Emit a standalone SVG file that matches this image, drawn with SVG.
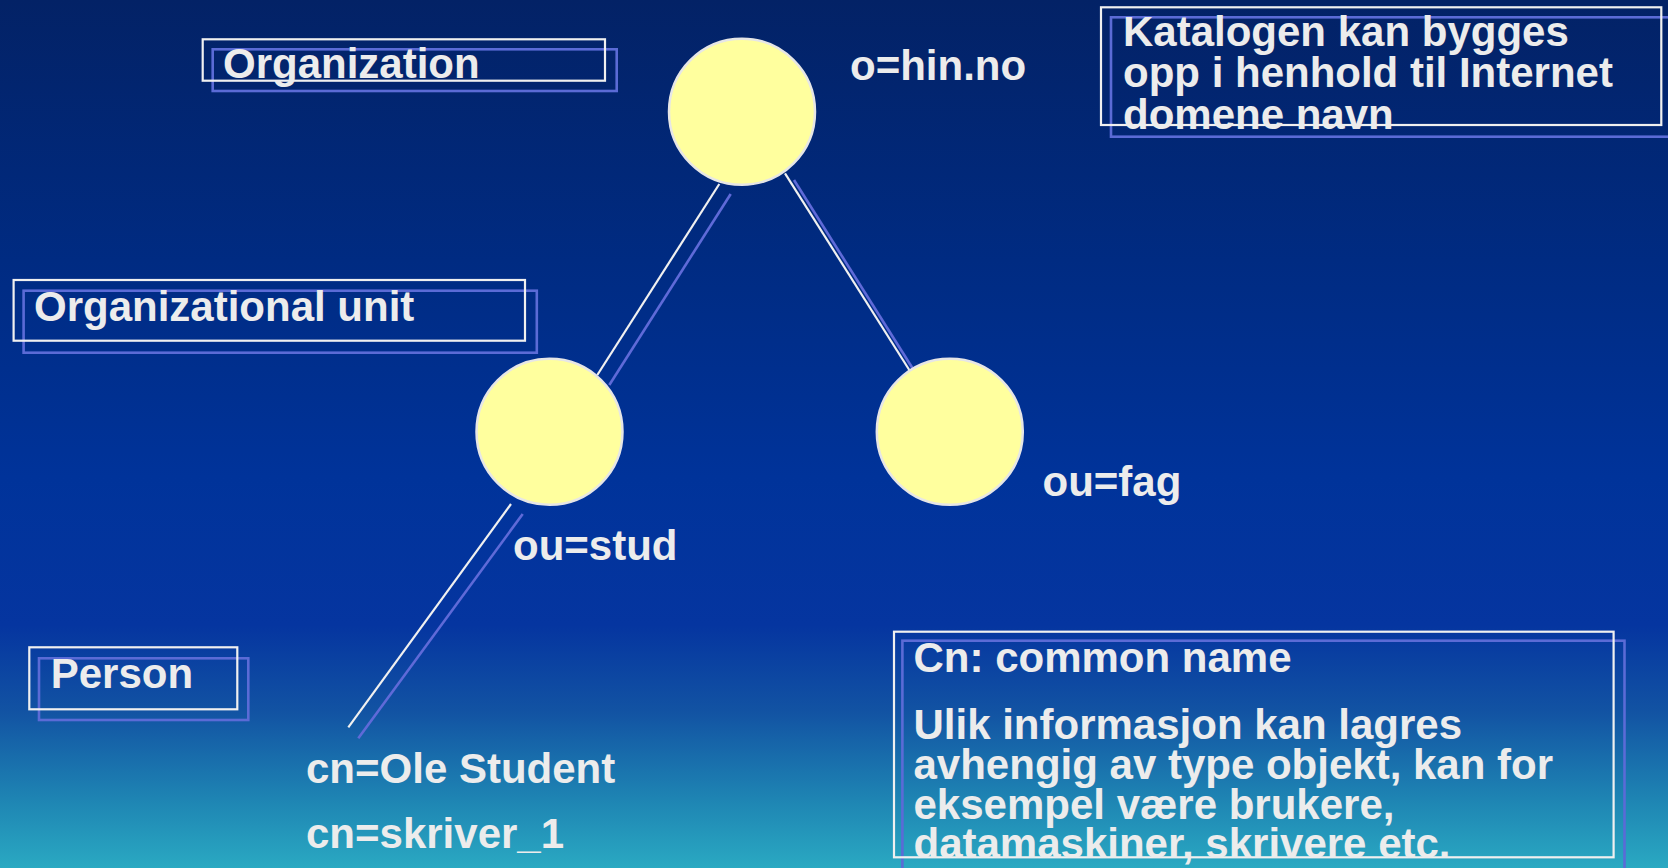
<svg xmlns="http://www.w3.org/2000/svg" width="1668" height="868" viewBox="0 0 1668 868">
<style>
.t{font-family:"Liberation Sans",Arial,sans-serif;font-weight:bold;font-size:42px;fill:#ececec}
.box{fill:none;stroke:#f0f0f0;stroke-width:2.2}
.sh{fill:none;stroke:#5b6bd6;stroke-width:2.6}
.ln{stroke:#f0f0f0;stroke-width:2.2}
.lsh{stroke:#5f6ad8;stroke-width:2.6}
.node{fill:#ffff9e;stroke:#e6e6e6;stroke-width:2.5}
</style>
<defs>
<linearGradient id="bg" x1="0" y1="0" x2="0" y2="1">
<stop offset="0" stop-color="#032266"/>
<stop offset="0.3" stop-color="#002b82"/>
<stop offset="0.55" stop-color="#00339a"/>
<stop offset="0.72" stop-color="#0535a0"/>
<stop offset="0.82" stop-color="#1253a3"/>
<stop offset="0.92" stop-color="#1e84b3"/>
<stop offset="1" stop-color="#2aa9c2"/>
</linearGradient>
</defs>
<rect x="0" y="0" width="1668" height="868" fill="url(#bg)"/>

<g id="connectors">
<line class="lsh" x1="730.7" y1="194" x2="609.3" y2="385"/>
<line class="ln" x1="719.3" y1="184" x2="597.3" y2="375"/>
<line class="lsh" x1="794" y1="180" x2="920.3" y2="380.5"/>
<line class="ln" x1="785" y1="173.3" x2="909.3" y2="370"/>
<line class="lsh" x1="522.7" y1="514" x2="358.3" y2="738.3"/>
<line class="ln" x1="511" y1="504" x2="348.3" y2="727.3"/>
</g>

<g id="node-hin">
<circle class="node" cx="742" cy="111.7" r="73"/>
<text class="t" x="850" y="80">o=hin.no</text>
</g>
<g id="node-stud">
<circle class="node" cx="549.5" cy="431.7" r="73"/>
<text class="t" x="513" y="560">ou=stud</text>
</g>
<g id="node-fag">
<circle class="node" cx="949.8" cy="431.7" r="73"/>
<text class="t" x="1042.5" y="495.5">ou=fag</text>
</g>
<g id="node-cn">
<text class="t" x="306" y="783.3">cn=Ole Student</text>
<text class="t" x="306" y="848.3">cn=skriver_1</text>
</g>

<g id="label-organization">
<rect class="sh" x="212.7" y="49.3" width="404" height="41.7"/>
<rect class="box" x="202.7" y="39.3" width="402.3" height="41.4"/>
<text class="t" x="223" y="78">Organization</text>
</g>
<g id="label-ou">
<rect class="sh" x="23.6" y="290.7" width="513.2" height="62"/>
<rect class="box" x="13.6" y="280" width="511.4" height="60.7"/>
<text class="t" x="34" y="320.7">Organizational unit</text>
</g>
<g id="label-person">
<rect class="sh" x="39" y="658.3" width="209.3" height="61.7"/>
<rect class="box" x="29.3" y="647.3" width="208" height="62"/>
<text class="t" x="50.7" y="688.3">Person</text>
</g>
<g id="note-katalog">
<rect class="sh" x="1111" y="17.3" width="560" height="119.4"/>
<rect class="box" x="1101" y="7.3" width="560.3" height="117.7"/>
<text class="t" x="1123" y="45.5">Katalogen kan bygges</text>
<text class="t" x="1123" y="87">opp i henhold til Internet</text>
<text class="t" x="1123" y="128.5">domene navn</text>
</g>
<g id="note-cn">
<rect class="sh" x="902.4" y="640.7" width="722.1" height="240"/>
<rect class="box" x="894" y="631.7" width="719.6" height="225.6"/>
<text class="t" x="913.5" y="671.7">Cn: common name</text>
<text class="t" x="913.5" y="739">Ulik informasjon kan lagres</text>
<text class="t" x="913.5" y="779">avhengig av type objekt, kan for</text>
<text class="t" x="913.5" y="818.5">eksempel være brukere,</text>
<text class="t" x="913.5" y="858">datamaskiner, skrivere etc.</text>
</g>
</svg>
